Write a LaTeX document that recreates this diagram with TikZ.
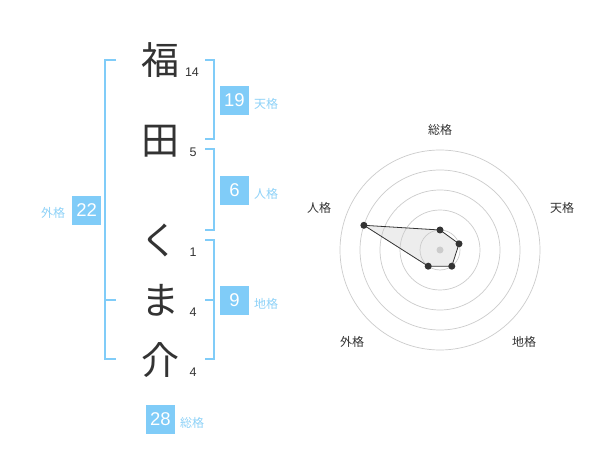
\documentclass[tikz,border=0pt]{standalone}
\usepackage{fontspec}
\setmainfont{Liberation Sans}
\newfontfamily\cjk{Noto Sans CJK JP}
\definecolor{bl}{HTML}{80CCF8}
\definecolor{bllbl}{HTML}{8ED2F8}
\definecolor{ink}{HTML}{333333}
\definecolor{grid}{HTML}{CCCCCC}
\tikzset{
  bigch/.style={text=ink, font=\cjk\fontsize{38}{38}\selectfont, inner sep=0pt},
  strokes/.style={text=ink, font=\fontsize{12.5}{12.5}\selectfont, inner sep=0pt},
  numbox/.style={fill=bl, text=white, minimum size=29pt, inner sep=0pt, font=\fontsize{18.5}{18.5}\selectfont},
  kaku/.style={text=bllbl, font=\cjk\fontsize{12}{12}\selectfont, inner sep=0pt},
  brk/.style={draw=bl, line width=2pt},
  ring/.style={draw=grid, line width=0.7pt},
  rlbl/.style={text=ink, font=\cjk\fontsize{12}{12}\selectfont, inner sep=0pt},
  pt/.style={circle, fill=ink, minimum size=7pt, inner sep=0pt},
}
\begin{document}
\begin{tikzpicture}[x=1pt,y=-1pt]
\fill[white] (0,0) rectangle (600,470);
\useasboundingbox (0,0) rectangle (600,470);
% name characters
\node[bigch] (c1) at (160,60) {福};
\node[bigch] (c2) at (160,141) {田};
\node[bigch] (c3) at (159,240) {く};
\node[bigch] (c4) at (160,300) {ま};
\node[bigch] (c5) at (160,360) {介};
% stroke counts
\node[strokes] (s1) at (192,72.7) {14};
\node[strokes] (s2) at (193,152.7) {5};
\node[strokes] (s3) at (193,252.7) {1};
\node[strokes] (s4) at (193,312.7) {4};
\node[strokes] (s5) at (193,372.7) {4};
% brackets
\coordinate (L1) at (116,60);
\coordinate (L2) at (116,359);
\draw[brk] (L1) -- (105,60) -- (105,359) -- (L2);
\draw[brk] (105,300) -- (116,300);
\draw[brk] (205,60) -- (214,60) -- (214,139) -- (205,139);
\draw[brk] (205,149) -- (214,149) -- (214,230) -- (205,230);
\draw[brk] (205,240) -- (214,240) -- (214,359) -- (205,359);
\draw[brk] (205,300) -- (214,300);
% result boxes
\node[numbox] (b19) at (234.5,100.5) {19};
\node[kaku, anchor=west] (k19) at (254,104) {天格};
\node[numbox] (b6) at (234.5,190.5) {6};
\node[kaku, anchor=west] (k6) at (254,194) {人格};
\node[numbox] (b9) at (234.5,300.5) {9};
\node[kaku, anchor=west] (k9) at (254,304) {地格};
\node[numbox] (b22) at (86.7,210.3) {22};
\node[kaku] (k22) at (53,213.3) {外格};
\node[numbox] (b28) at (160.5,419) {28};
\node[kaku, anchor=west] (k28) at (180,422.7) {総格};
% radar
\coordinate (O) at (440,250);
\foreach \r in {20,40,60,80,100} \draw[ring] (O) circle[radius=\r];
\fill[grid] (O) circle[radius=3.5];
\coordinate (pS) at (440,230);
\coordinate (pT) at (459.0,243.8);
\coordinate (pC) at (451.8,266.2);
\coordinate (pG) at (428.2,266.2);
\coordinate (pJ) at (363.9,225.3);
\filldraw[fill=black!20, fill opacity=0.35, draw=ink, line width=0.8pt] (pS) -- (pT) -- (pC) -- (pG) -- (pJ) -- cycle;
\foreach \p in {pS,pT,pC,pG,pJ} \node[pt] at (\p) {};
\node[rlbl] (rS) at (440,130) {総格};
\node[rlbl] (rT) at (562,208) {天格};
\node[rlbl] (rJ) at (319,208) {人格};
\node[rlbl] (rG) at (352,342) {外格};
\node[rlbl] (rC) at (524,342) {地格};
\end{tikzpicture}
\end{document}
